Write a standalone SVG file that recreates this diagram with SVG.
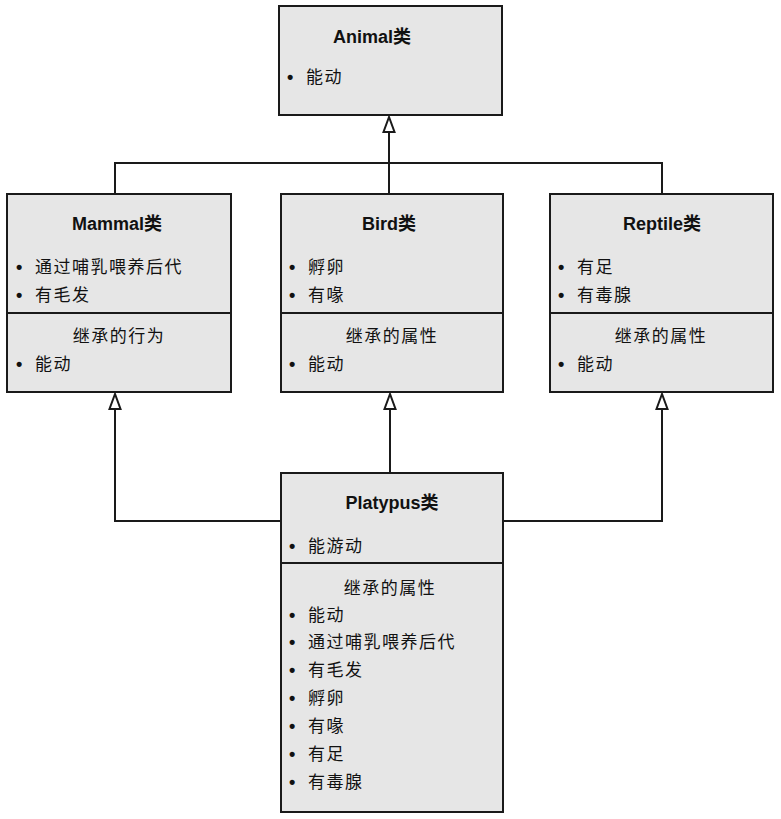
<svg xmlns="http://www.w3.org/2000/svg" width="781" height="819" viewBox="0 0 781 819">
<defs>
<style>
.box{fill:#e6e6e6;stroke:#1a1a1a;stroke-width:2}
.div{stroke:#1a1a1a;stroke-width:2}
.t{font-family:"Liberation Sans","Noto Sans CJK SC",sans-serif;font-size:18px;font-weight:bold;fill:#111;text-anchor:middle}
.i{font-family:"Noto Sans CJK SC","Liberation Sans",sans-serif;font-size:17px;fill:#111;letter-spacing:1.5px}
.b{font-family:"Liberation Sans",sans-serif;font-size:18px;font-weight:bold;fill:#111}
.h{font-family:"Noto Sans CJK SC","Liberation Sans",sans-serif;font-size:17px;fill:#111;letter-spacing:1.5px;text-anchor:middle}
.c{fill:none;stroke:#1a1a1a;stroke-width:2}
</style>
<marker id="tri" viewBox="0 0 18 14" refX="17" refY="7" markerWidth="18" markerHeight="14" markerUnits="userSpaceOnUse" orient="auto">
<path d="M17,7 L2,1.5 L2,12.5 Z" fill="#fff" stroke="#1a1a1a" stroke-width="2" stroke-linejoin="miter"/>
</marker>
</defs>
<rect width="781" height="819" fill="#fff"/>
<g id="connectors">
<path class="c" d="M115,194 V163 H662 V194"/>
<path class="c" d="M389,194 V117" marker-end="url(#tri)"/>
<path class="c" d="M281,521 H115 V394" marker-end="url(#tri)"/>
<path class="c" d="M503,521 H662 V394" marker-end="url(#tri)"/>
<path class="c" d="M390,473 V394" marker-end="url(#tri)"/>
</g>
<g id="animal">
<rect class="box" x="279" y="6" width="223" height="109"/>
<text class="t" x="372" y="43">Animal类</text>
<text class="b" x="287" y="83">•</text><text class="i" x="306" y="83">能动</text>
</g>
<g id="mammal">
<rect class="box" x="7" y="194" width="224" height="198"/>
<line class="div" x1="7" y1="313" x2="231" y2="313"/>
<text class="t" x="117" y="230">Mammal类</text>
<text class="b" x="16" y="273">•</text><text class="i" x="35" y="273">通过哺乳喂养后代</text>
<text class="b" x="16" y="301">•</text><text class="i" x="35" y="301">有毛发</text>
<text class="h" x="119" y="342">继承的行为</text>
<text class="b" x="16" y="370">•</text><text class="i" x="35" y="370">能动</text>
</g>
<g id="bird">
<rect class="box" x="281" y="194" width="222" height="198"/>
<line class="div" x1="281" y1="313" x2="503" y2="313"/>
<text class="t" x="389" y="230">Bird类</text>
<text class="b" x="289" y="273">•</text><text class="i" x="308" y="273">孵卵</text>
<text class="b" x="289" y="301">•</text><text class="i" x="308" y="301">有喙</text>
<text class="h" x="392" y="342">继承的属性</text>
<text class="b" x="289" y="370">•</text><text class="i" x="308" y="370">能动</text>
</g>
<g id="reptile">
<rect class="box" x="550" y="194" width="223" height="198"/>
<line class="div" x1="550" y1="313" x2="773" y2="313"/>
<text class="t" x="662" y="230">Reptile类</text>
<text class="b" x="558" y="273">•</text><text class="i" x="577" y="273">有足</text>
<text class="b" x="558" y="301">•</text><text class="i" x="577" y="301">有毒腺</text>
<text class="h" x="661" y="342">继承的属性</text>
<text class="b" x="558" y="370">•</text><text class="i" x="577" y="370">能动</text>
</g>
<g id="platypus">
<rect class="box" x="281" y="473" width="222" height="339"/>
<line class="div" x1="281" y1="563" x2="503" y2="563"/>
<text class="t" x="392" y="509">Platypus类</text>
<text class="b" x="289" y="552">•</text><text class="i" x="308" y="552">能游动</text>
<text class="h" x="390" y="594">继承的属性</text>
<text class="b" x="289" y="621">•</text><text class="i" x="308" y="621">能动</text>
<text class="b" x="289" y="648">•</text><text class="i" x="308" y="648">通过哺乳喂养后代</text>
<text class="b" x="289" y="676">•</text><text class="i" x="308" y="676">有毛发</text>
<text class="b" x="289" y="704">•</text><text class="i" x="308" y="704">孵卵</text>
<text class="b" x="289" y="732">•</text><text class="i" x="308" y="732">有喙</text>
<text class="b" x="289" y="760">•</text><text class="i" x="308" y="760">有足</text>
<text class="b" x="289" y="788">•</text><text class="i" x="308" y="788">有毒腺</text>
</g>
</svg>
